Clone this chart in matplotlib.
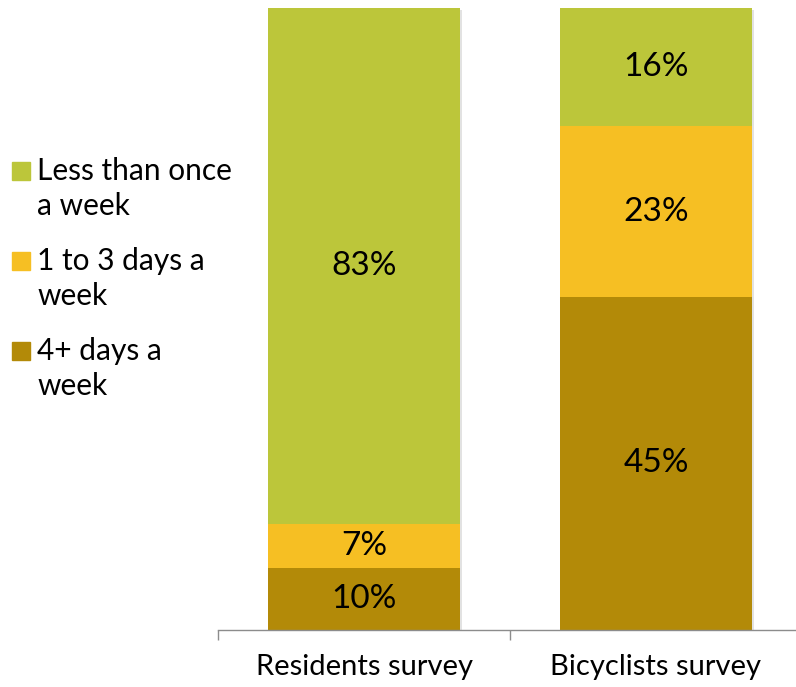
import matplotlib.pyplot as plt
import numpy as np
from matplotlib.patches import Rectangle

# ----------------------------------------------------------------------
#  Data
# ----------------------------------------------------------------------
surveys     = ['Residents survey', 'Bicyclists survey']
freq_labels = ['4+ days a\nweek', '1 to 3 days a\nweek', 'Less than once\na week']
four_plus   = [10, 45]
one_to_3    = [7, 23]
less_once   = [83, 16]

colors = ['#B38A08', '#F6BF23', '#BCC63A']

# ----------------------------------------------------------------------
#  Plot
# ----------------------------------------------------------------------
plt.rcParams['font.family'] = ['Lato', 'DejaVu Sans']

W, H = 796.0, 687.0
series = np.array([four_plus, one_to_3, less_once], dtype=float)
shares = series / series.sum(axis=0) * 100.0   # stacked to 100 %

fig = plt.figure(figsize=(W/100, H/100), dpi=100)
axes = fig.add_axes([218/W, 57/H, 584/W, 622/H])

x = np.arange(len(surveys))
bottom = np.zeros(len(surveys))
for i in range(len(series)):
	# soft drop shadow behind each segment
	axes.bar(x + 0.006, shares[i], 0.66, bottom=bottom - 0.3, color='#e2e2e2', zorder=1)
	axes.bar(x, shares[i], 0.66, bottom=bottom, color=colors[i], zorder=2)
	for j in range(len(surveys)):
		axes.text(x[j], bottom[j] + shares[i][j]/2, '%d%%' % series[i][j],
				  ha='center', va='center', fontsize=24, color='black', zorder=3)
	bottom += shares[i]

axes.set_xlim(-0.5, 1.5)
axes.set_ylim(0, 100)
axes.set_yticks([])
for s in ['top', 'right', 'left']:
	axes.spines[s].set_visible(False)
axes.spines['bottom'].set_color('#8c8c8c')
axes.spines['bottom'].set_linewidth(1.0)
axes.set_xticks([-0.5, 0.5, 1.5])
axes.set_xticklabels([])
axes.tick_params(axis='x', direction='out', length=7, color='#8c8c8c', width=1.0)
for j in range(len(surveys)):
	axes.annotate(surveys[j], xy=(x[j], 0), xycoords=('data', 'axes fraction'),
				  xytext=(0, -27), textcoords='offset points', ha='center', va='center',
				  fontsize=21)

# legend: square keyed to the first line of each wrapped label
entry_top = 157.0
for k, i in enumerate(range(len(colors) - 1, -1, -1)):
	top = entry_top + k * 90.0
	fig.patches.append(Rectangle((12/W, 1 - (top + 23)/H), 18/W, 18/H,
								 transform=fig.transFigure, color=colors[i]))
	fig.text(37/W, 1 - top/H, freq_labels[i], ha='left', va='top',
			 fontsize=21.5, linespacing=1.32)

plt.savefig('out.png', dpi=100)
